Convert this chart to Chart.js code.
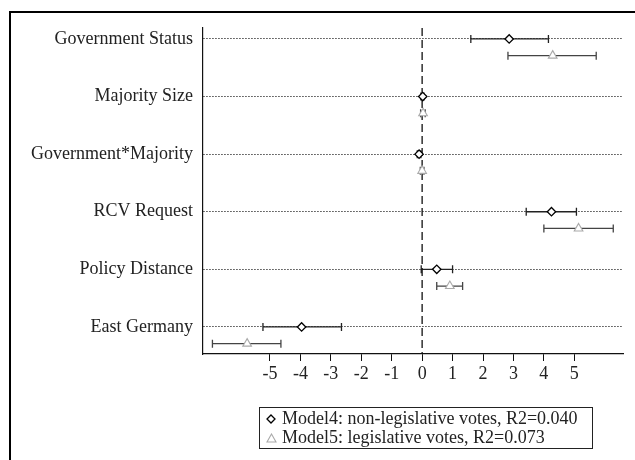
<!DOCTYPE html>
<html>
<head>
<meta charset="utf-8">
<script src="https://cdn.jsdelivr.net/npm/chart.js@4.4.1/dist/chart.umd.min.js"></script>
<style>
  html, body { margin: 0; padding: 0; background: #fff; }
  #wrap { position: relative; width: 635px; height: 460px; overflow: hidden; }
  #frame { position: absolute; left: 9px; top: 11px; width: 640px; height: 460px;
           border-top: 2.5px solid #000; border-left: 2.5px solid #000; box-sizing: border-box; }
  canvas { position: absolute; left: 0; top: 0; }
  #legend { position: absolute; left: 259px; top: 407px; width: 334px; height: 42px; box-sizing: border-box;
            border: 1.5px solid #222; font-family: "Liberation Serif", "Times New Roman", serif;
            font-size: 18px; color: #222; line-height: 19px; padding-top: 1px; }
  #legend .row { display: flex; align-items: center; white-space: nowrap; }
  #legend .mk { width: 22px; display: inline-flex; justify-content: center; align-items: center; }
</style>
</head>
<body>
<div id="wrap">
  <div id="frame"></div>
  <canvas id="c" width="635" height="460"></canvas>
  <div id="legend">
    <div class="row"><span class="mk"><svg width="10" height="10"><polygon points="5,1 9,5 5,9 1,5" fill="#fff" stroke="#000" stroke-width="1.3"/></svg></span><span>Model4: non-legislative votes, R2=0.040</span></div>
    <div class="row"><span class="mk"><svg width="11" height="10"><polygon points="5.5,1 10,9 1,9" fill="#fff" stroke="#aaa" stroke-width="1.1"/></svg></span><span>Model5: legislative votes, R2=0.073</span></div>
  </div>
</div>
<script>
// ---- data ----
const categories = ["Government Status", "Majority Size", "Government*Majority", "RCV Request", "Policy Distance", "East Germany"];
const xTicks = [-5, -4, -3, -2, -1, 0, 1, 2, 3, 4, 5];
const model4Est  = [2.86, 0.02, -0.10, 4.25, 0.48, -3.96];
const model4Low  = [1.60, -0.04, -0.16, 3.42, -0.03, -5.23];
const model4High = [4.15, 0.06, -0.04, 5.07, 1.00, -2.65];
const model5Est  = [4.29, 0.03, 0.00, 5.14, 0.91, -5.75];
const model5Low  = [2.82, -0.05, -0.06, 4.00, 0.48, -6.89];
const model5High = [5.72, 0.10, 0.06, 6.28, 1.33, -4.64];

const X_MIN = -7.2, X_MAX = 6.6;
const Y_MIN = -0.19, Y_MAX = 5.47;
const M5_OFFSET = 0.29;

const m4Points = categories.map((c, i) => ({ x: model4Est[i], y: i, lo: model4Low[i], hi: model4High[i] }));
const m5Points = categories.map((c, i) => ({ x: model5Est[i], y: i + M5_OFFSET, lo: model5Low[i], hi: model5High[i] }));

const errorBars = {
  id: 'errorBars',
  beforeDatasetsDraw(chart) {
    const ctx = chart.ctx;
    const xs = chart.scales.x, ys = chart.scales.y;
    const draw = (pts, color) => {
      ctx.save();
      ctx.strokeStyle = color;
      ctx.lineWidth = 1.3;
      pts.forEach(p => {
        const y = ys.getPixelForValue(p.y);
        const x1 = xs.getPixelForValue(p.lo), x2 = xs.getPixelForValue(p.hi);
        ctx.beginPath();
        ctx.moveTo(x1, y); ctx.lineTo(x2, y);
        ctx.moveTo(x1, y - 4); ctx.lineTo(x1, y + 4);
        ctx.moveTo(x2, y - 4); ctx.lineTo(x2, y + 4);
        ctx.stroke();
      });
      ctx.restore();
    };
    draw(m5Points, '#444');
    draw(m4Points, '#222');
  }
};

const serif = "'Liberation Serif', 'Times New Roman', serif";

new Chart(document.getElementById('c'), {
  type: 'scatter',
  data: {
    datasets: [
      {
        type: 'line',
        data: [{ x: 0, y: Y_MIN }, { x: 0, y: Y_MAX }],
        borderColor: '#111', borderWidth: 1.3, borderDash: [8, 4],
        pointRadius: 0, fill: false, order: 3
      },
      {
        label: 'Model4',
        data: m4Points,
        pointStyle: 'rectRot', pointRadius: 4.2,
        backgroundColor: '#fff', borderColor: '#000', pointBorderWidth: 1.3, order: 1
      },
      {
        label: 'Model5',
        data: m5Points,
        pointStyle: 'triangle', pointRadius: 5,
        backgroundColor: '#fff', borderColor: '#aaa', pointBorderWidth: 1.1, order: 2
      }
    ]
  },
  options: {
    responsive: false,
    animation: false,
    events: [],
    layout: { padding: { left: 0, right: 12, top: 28, bottom: 76 } },
    plugins: { legend: { display: false }, tooltip: { enabled: false } },
    scales: {
      x: {
        type: 'linear', min: X_MIN, max: X_MAX,
        afterBuildTicks: s => { s.ticks = xTicks.map(v => ({ value: v })); },
        afterFit: s => { s.height = 30; },
        grid: { drawOnChartArea: false, drawTicks: true, tickLength: 7, color: '#111', lineWidth: 1 },
        border: { display: true, color: '#111', width: 1.2 },
        ticks: { color: '#222', font: { family: serif, size: 18 }, padding: 2, maxRotation: 0, autoSkip: false }
      },
      y: {
        type: 'linear', min: Y_MIN, max: Y_MAX, reverse: true,
        afterBuildTicks: s => { s.ticks = categories.map((c, i) => ({ value: i })); },
        afterFit: s => { s.width = 203; },
        grid: { drawOnChartArea: true, drawTicks: false, color: '#444', lineWidth: 1 },
        border: { display: true, color: '#111', width: 1.2, dash: [1.5, 1.5] },
        ticks: { color: '#222', font: { family: serif, size: 18 }, padding: 10, autoSkip: false,
                 callback: v => categories[v] }
      }
    }
  },
  plugins: [errorBars]
});
</script>
</body>
</html>
